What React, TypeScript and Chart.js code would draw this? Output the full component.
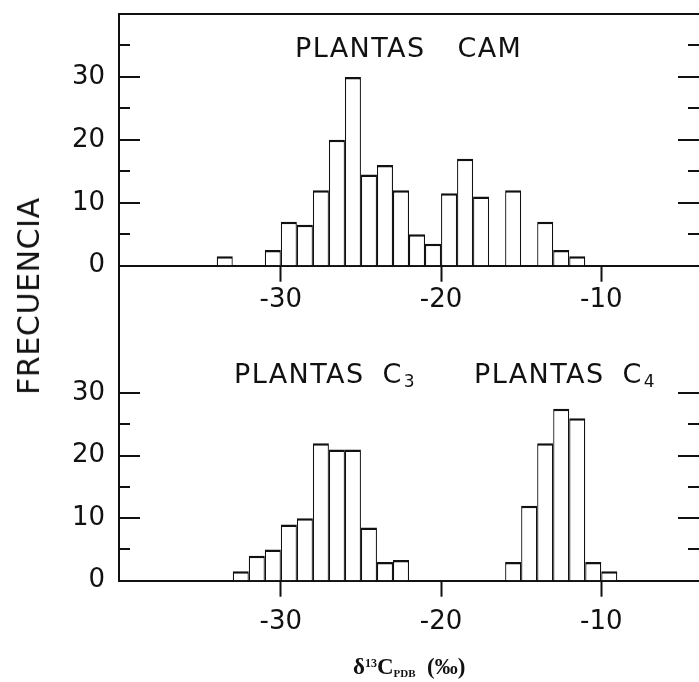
import React, { useEffect, useRef } from "react";
import { Chart, registerables } from "chart.js";

Chart.register(...registerables);

// ---- data ----
// PLANTAS CAM: lower edge of each 1 ‰ class and its frequency
const camBinStart = [-34, -31, -30, -29, -28, -27, -26, -25, -24, -23, -22, -21, -20, -19, -18, -16, -14, -13, -12];
const camFreq = [1.5, 2.5, 7, 6.5, 12, 20, 30, 14.5, 16, 12, 5, 3.5, 11.5, 17, 11, 12, 7, 2.5, 1.5];
// PLANTAS C3
const c3BinStart = [-33, -32, -31, -30, -29, -28, -27, -26, -25, -24, -23];
const c3Freq = [1.5, 4, 5, 9, 10, 22, 21, 21, 8.5, 3, 3.3];
// PLANTAS C4
const c4BinStart = [-16, -15, -14, -13, -12, -11, -10];
const c4Freq = [3, 12, 22, 27.5, 26, 3, 1.5];
// axes
const xTickValues = [-30, -20, -10];
const yLabelValues = [0, 10, 20, 30];
const yMajorTicks = [10, 20, 30];
const yMinorTicksTop = [5, 15, 25, 35];
const yMinorTicksBottom = [5, 15, 25];
const X_MIN = -40.1;
const X_MAX = -3.9;
const BIN_WIDTH = 1;

const INK = "#111";
const SANS = '"DejaVu Sans", sans-serif';

const toBars = (starts: number[], freq: number[]) =>
  starts.map((s, i) => ({ x: s + BIN_WIDTH / 2, y: freq[i] }));

const inwardTicks = {
  id: "inwardTicks",
  afterDraw(chart: any, _args: any, opts: any) {
    const y = chart.scales.y;
    const { left, right } = chart.chartArea;
    const ctx = chart.ctx;
    ctx.save();
    ctx.strokeStyle = INK;
    ctx.lineWidth = 2;
    const draw = (vals: number[], len: number) => {
      vals.forEach((v) => {
        const py = Math.round(y.getPixelForValue(v));
        ctx.beginPath();
        ctx.moveTo(left, py);
        ctx.lineTo(left + len, py);
        ctx.moveTo(right, py);
        ctx.lineTo(right - len, py);
        ctx.stroke();
      });
    };
    draw(opts.major, opts.majorLen);
    draw(opts.minor, opts.minorLen);
    ctx.restore();
  },
};

const barStyle = {
  backgroundColor: "#fff",
  borderColor: INK,
  borderWidth: { top: 2.5, left: 1.25, right: 1.25, bottom: 0 },
  borderSkipped: "start",
  barPercentage: 1,
  categoryPercentage: 1,
  grouped: false,
  inflateAmount: 0,
};

function makeConfig(opts: {
  datasets: any[];
  yMax: number;
  minor: number[];
  padTop: number;
  padBottom: number;
  topBorder: boolean;
  labelPad: number;
}): any {
  return {
    type: "bar",
    data: { datasets: opts.datasets.map((d) => ({ ...barStyle, ...d })) },
    plugins: [inwardTicks],
    options: {
      animation: false,
      responsive: false,
      maintainAspectRatio: false,
      devicePixelRatio: 1,
      layout: {
        autoPadding: false,
        padding: { left: 0, right: -3, top: opts.padTop, bottom: opts.padBottom },
      },
      plugins: {
        legend: { display: false },
        tooltip: { enabled: false },
        title: { display: false },
        inwardTicks: { major: yMajorTicks, minor: opts.minor, majorLen: 21, minorLen: 11 },
      },
      scales: {
        x: {
          type: "linear",
          position: "bottom",
          min: X_MIN,
          max: X_MAX,
          offset: false,
          afterBuildTicks: (s: any) => {
            s.ticks = xTickValues.map((v) => ({ value: v }));
          },
          afterFit: (s: any) => {
            s.height = 60;
          },
          grid: {
            display: true,
            offset: false,
            drawOnChartArea: false,
            drawTicks: true,
            tickLength: 16,
            tickWidth: 2,
            tickColor: INK,
          },
          border: { display: true, color: INK, width: 2 },
          ticks: {
            color: INK,
            font: { family: SANS, size: 26 },
            padding: opts.labelPad,
            maxRotation: 0,
            autoSkip: false,
            callback: (v: any) => String(v),
          },
        },
        xTop: {
          type: "linear",
          position: "top",
          min: X_MIN,
          max: X_MAX,
          display: opts.topBorder,
          afterFit: (s: any) => {
            s.height = 0;
          },
          grid: { display: true, drawOnChartArea: false, drawTicks: false },
          border: { display: true, color: INK, width: 2 },
          ticks: { display: false },
        },
        y: {
          position: "left",
          min: 0,
          max: opts.yMax,
          afterBuildTicks: (s: any) => {
            s.ticks = yLabelValues.map((v) => ({ value: v }));
          },
          afterFit: (s: any) => {
            s.width = 119;
          },
          grid: {
            display: true,
            drawOnChartArea: false,
            drawTicks: true,
            tickLength: 14,
            tickColor: "rgba(0,0,0,0)",
          },
          border: { display: true, color: INK, width: 2 },
          ticks: {
            color: INK,
            font: { family: SANS, size: 26, lineHeight: 1 },
            padding: 0,
            callback: (v: any) => String(v),
          },
        },
      },
    },
  };
}

export default function App() {
  const topRef = useRef<HTMLCanvasElement | null>(null);
  const botRef = useRef<HTMLCanvasElement | null>(null);

  useEffect(() => {
    const top = new Chart(
      topRef.current as HTMLCanvasElement,
      makeConfig({
        datasets: [{ label: "PLANTAS CAM", data: toBars(camBinStart, camFreq) }],
        yMax: 40,
        minor: yMinorTicksTop,
        padTop: 14,
        padBottom: 682 - 265.7 - 60,
        topBorder: true,
        labelPad: 3,
      })
    );
    const bottom = new Chart(
      botRef.current as HTMLCanvasElement,
      makeConfig({
        datasets: [
          { label: "PLANTAS C3", data: toBars(c3BinStart, c3Freq) },
          { label: "PLANTAS C4", data: toBars(c4BinStart, c4Freq) },
        ],
        yMax: 50.4,
        minor: yMinorTicksBottom,
        padTop: 265.7,
        padBottom: 682 - 580.7 - 60,
        topBorder: false,
        labelPad: 10,
      })
    );
    return () => {
      top.destroy();
      bottom.destroy();
    };
  }, []);

  const canvasStyle: React.CSSProperties = {
    position: "absolute",
    left: 0,
    top: 0,
    width: 699,
    height: 682,
  };
  const label: React.CSSProperties = {
    position: "absolute",
    fontFamily: SANS,
    color: INK,
    whiteSpace: "pre",
    fontSize: 27,
    lineHeight: "27px",
    letterSpacing: 1.4,
  };
  const sub: React.CSSProperties = { fontSize: 17, verticalAlign: "-4px", marginLeft: 1 };

  return (
    <div
      style={{
        position: "absolute",
        left: 0,
        top: 0,
        width: 699,
        height: 682,
        overflow: "hidden",
        background: "#fff",
      }}
    >
      <canvas ref={topRef} width={699} height={682} style={canvasStyle} />
      <canvas ref={botRef} width={699} height={682} style={canvasStyle} />
      <div style={{ ...label, left: 295, top: 34, wordSpacing: 22 }}>PLANTAS CAM</div>
      <div style={{ ...label, left: 234, top: 360, wordSpacing: 8 }}>
        PLANTAS C<sub style={sub}>3</sub>
      </div>
      <div style={{ ...label, left: 474, top: 360, wordSpacing: 8 }}>
        PLANTAS C<sub style={sub}>4</sub>
      </div>
      <div
        style={{
          ...label,
          fontSize: 30,
          lineHeight: "30px",
          letterSpacing: 0.6,
          left: 29,
          top: 296,
          transform: "translate(-50%, -50%) rotate(-90deg)",
        }}
      >
        FRECUENCIA
      </div>
      <div
        style={{
          position: "absolute",
          left: 353,
          top: 652,
          fontFamily: '"Liberation Serif", "Times New Roman", serif',
          fontWeight: "bold",
          fontSize: 23,
          lineHeight: "23px",
          color: INK,
          whiteSpace: "pre",
        }}
      >
        δ<sup style={{ fontSize: 12, verticalAlign: "7px" }}>13</sup>C
        <sub style={{ fontSize: 11, verticalAlign: "-3px" }}>PDB</sub>
        {"  (‰)"}
      </div>
    </div>
  );
}
